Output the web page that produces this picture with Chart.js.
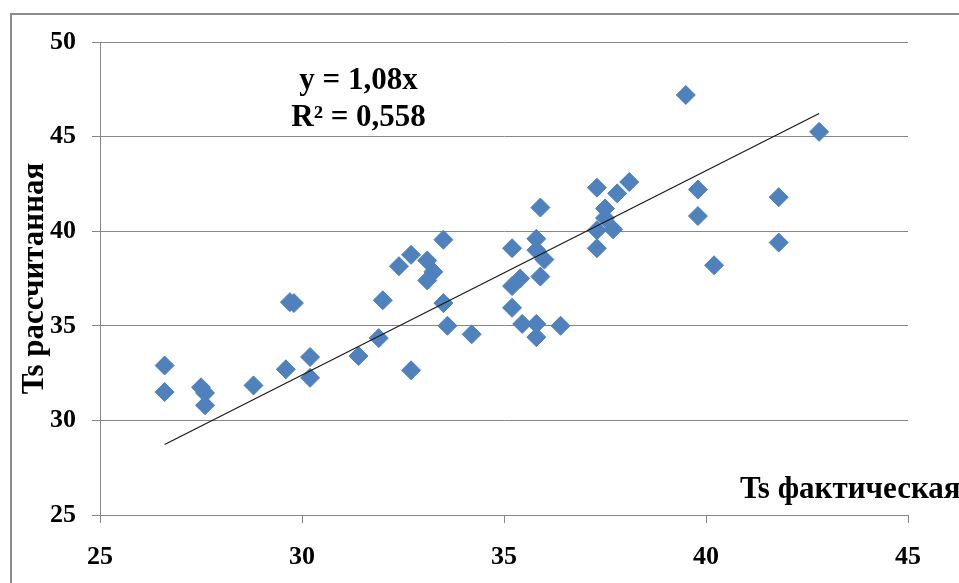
<!DOCTYPE html>
<html>
<head>
<meta charset="utf-8">
<script src="https://cdn.jsdelivr.net/npm/chart.js@4/dist/chart.umd.min.js"></script>
<style>
    html, body { margin: 0; padding: 0; background: #fff; overflow: hidden; }
    #wrap { position: relative; width: 959px; height: 583px; }
    /* рамка области диаграммы (правый и нижний край за пределами кадра) */
    #frame {
        position: absolute; left: 10px; top: 13px;
        width: 1000px; height: 1000px;
        border: 2px solid #8c8c8c;
    }
    #scatterChart { position: absolute; left: 0; top: 0; }
</style>
</head>
<body>
<div id="wrap">
    <div id="frame"></div>
    <canvas id="scatterChart" width="959" height="583"></canvas>
</div>
<script>
// Ts фактическая (ось X)
const tsActual = [
    26.6, 26.6, 27.5, 27.6, 27.6, 28.8, 29.6, 29.7, 29.8, 30.2,
    30.2, 31.4, 31.9, 32.0, 32.7, 32.4, 32.7, 33.1, 33.25, 33.1,
    33.5, 33.5, 33.6, 34.2, 35.2, 35.9, 35.8, 35.8, 36.0, 35.4,
    35.2, 35.9, 35.2, 35.45, 35.8, 35.8, 36.4, 37.3, 37.8, 38.1,
    37.5, 37.5, 37.3, 37.7, 37.3, 39.8, 39.8, 39.5, 42.8, 41.8,
    41.8, 40.2
];

// Ts рассчитанная (ось Y)
const tsCalculated = [
    32.9, 31.5, 31.75, 31.45, 30.8, 31.85, 32.7, 36.25, 36.2, 33.35,
    32.25, 33.4, 34.35, 36.35, 32.65, 38.15, 38.75, 38.45, 37.85, 37.4,
    39.55, 36.2, 35.0, 34.55, 39.1, 41.25, 39.6, 39.0, 38.5, 37.5,
    37.1, 37.6, 35.95, 35.1, 35.1, 34.4, 35.0, 42.3, 42.0, 42.6,
    41.2, 40.7, 40.05, 40.1, 39.1, 42.2, 40.8, 47.2, 45.25, 41.8,
    39.4, 38.2
];

// линия тренда y = 1,08x (концы отрезка)
const trendX = [26.6, 42.8];
const trendY = [28.73, 46.22];

const equationLines = ['y = 1,08x', 'R² = 0,558'];
const xTitle = 'Ts фактическая';
const yTitle = 'Ts рассчитанная';

const gridColor = '#878787';
const serif = '"Liberation Serif", "Times New Roman", serif';

// подписи: уравнение тренда и название оси X внутри области построения
const textPlugin = {
    id: 'textPlugin',
    afterDraw(chart) {
        const { ctx, chartArea } = chart;
        ctx.save();
        ctx.fillStyle = '#000';
        ctx.font = 'bold 31px ' + serif;
        ctx.textAlign = 'center';
        ctx.textBaseline = 'alphabetic';
        const cx = chart.scales.x.getPixelForValue(31.4);
        ctx.fillText(equationLines[0], cx, chartArea.top + 47);
        ctx.fillText(equationLines[1], cx, chartArea.top + 84);

        ctx.textAlign = 'left';
        ctx.fillText(xTitle, chartArea.right - 168, chartArea.bottom - 17);
        ctx.restore();
    }
};

const points = tsActual.map((x, i) => ({ x: x, y: tsCalculated[i] }));
const trend = trendX.map((x, i) => ({ x: x, y: trendY[i] }));

new Chart(document.getElementById('scatterChart'), {
    type: 'scatter',
    data: {
        datasets: [
            {
                label: 'Тренд',
                data: trend,
                showLine: true,
                borderColor: '#1a1a1a',
                borderWidth: 1.2,
                pointRadius: 0,
                pointHoverRadius: 0,
                fill: false
            },
            {
                label: 'Ts',
                data: points,
                pointStyle: 'rectRot',
                pointRadius: 9.5,
                pointHoverRadius: 9.5,
                backgroundColor: '#4f81bd',
                borderColor: '#4f81bd',
                borderWidth: 1
            }
        ]
    },
    options: {
        responsive: false,
        animation: false,
        events: [],
        layout: {
            padding: { left: 0, right: 51, top: 42, bottom: 0 }
        },
        plugins: {
            legend: { display: false },
            tooltip: { enabled: false }
        },
        scales: {
            x: {
                type: 'linear',
                min: 25,
                max: 45,
                ticks: {
                    stepSize: 5,
                    color: '#000',
                    padding: 19,
                    font: { family: serif, size: 26, weight: 'bold' }
                },
                grid: {
                    drawOnChartArea: false,
                    drawTicks: true,
                    tickLength: 8,
                    color: gridColor
                },
                border: { display: true, color: gridColor },
                afterFit: s => { s.height = 68; }
            },
            y: {
                type: 'linear',
                min: 25,
                max: 50,
                ticks: {
                    stepSize: 5,
                    color: '#000',
                    padding: 16,
                    font: { family: serif, size: 26, weight: 'bold' }
                },
                grid: {
                    drawTicks: true,
                    tickLength: 8,
                    color: gridColor
                },
                border: { display: true, color: gridColor },
                title: {
                    display: true,
                    text: yTitle,
                    color: '#000',
                    padding: { top: 16, bottom: 0 },
                    font: { family: serif, size: 31, weight: 'bold' }
                },
                afterFit: s => { s.width = 100; }
            }
        }
    },
    plugins: [textPlugin]
});
</script>
</body>
</html>
